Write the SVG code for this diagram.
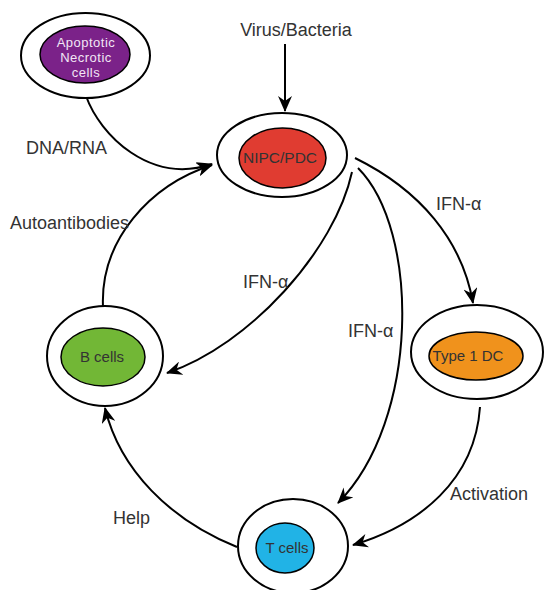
<svg xmlns="http://www.w3.org/2000/svg" width="545" height="590" viewBox="0 0 545 590">
<style>
.outer{fill:#fff;stroke:#000;stroke-width:2}
.inner{stroke:#000;stroke-width:1.5}
.lbl{font-family:"Liberation Sans",Arial,sans-serif;font-size:18px;fill:#333}
.nt{font-family:"Liberation Sans",Arial,sans-serif;font-size:15px;fill:#333;text-anchor:middle}
.at{font-family:"Liberation Sans",Arial,sans-serif;font-size:13px;letter-spacing:0.5px;fill:#f2e6f5;text-anchor:middle}
.edge{fill:none;stroke:#000;stroke-width:2;marker-end:url(#ah)}
</style>
<defs>
<marker id="ah" viewBox="0 0 16 14" refX="15" refY="7" markerWidth="16" markerHeight="14" orient="auto" markerUnits="userSpaceOnUse">
<path d="M0,0 L16,7 L0,14 L5,7 z" fill="#000"/>
</marker>
</defs>
<rect width="545" height="590" fill="#fff"/>
<g id="connectors">
<path class="edge" d="M285 44 L285 111"/>
<path class="edge" d="M86 96 C100 135 150 185 212 164"/>
<path class="edge" d="M103 307 C100 240 150 185 212 165"/>
<path class="edge" d="M355 158 C420 190 462 240 473 303"/>
<path class="edge" d="M352 172 C335 250 250 345 167 373"/>
<path class="edge" d="M358 168 C420 230 420 420 338 503"/>
<path class="edge" d="M480 407 C475 480 420 525 353 545"/>
<path class="edge" d="M237 547 C170 520 120 470 105 408"/>
</g>
<g id="labels">
<text class="lbl" x="296" y="36" text-anchor="middle">Virus/Bacteria</text>
<text class="lbl" x="26" y="154">DNA/RNA</text>
<text class="lbl" x="10" y="229">Autoantibodies</text>
<text class="lbl" x="436" y="210">IFN-α</text>
<text class="lbl" x="243" y="288">IFN-α</text>
<text class="lbl" x="348" y="337">IFN-α</text>
<text class="lbl" x="450" y="500">Activation</text>
<text class="lbl" x="113" y="524">Help</text>
</g>
<g id="apoptotic">
<ellipse class="outer" cx="85.5" cy="55.5" rx="64.5" ry="42.5"/>
<ellipse class="inner" cx="85" cy="54.5" rx="45" ry="28.5" fill="#7b2289"/>
<text class="at" x="86" y="47">Apoptotic</text>
<text class="at" x="86" y="62">Necrotic</text>
<text class="at" x="86" y="77">cells</text>
</g>
<g id="nipc">
<ellipse class="outer" cx="282" cy="155" rx="65" ry="42"/>
<ellipse class="inner" cx="282.5" cy="158" rx="43.5" ry="30" fill="#e03c31"/>
<text class="nt" x="280" y="163" style="font-size:15.5px">NIPC/PDC</text>
</g>
<g id="bcells">
<ellipse class="outer" cx="105" cy="356" rx="58" ry="50"/>
<ellipse class="inner" cx="103" cy="357" rx="42" ry="29" fill="#72b736"/>
<text class="nt" x="102" y="362">B cells</text>
</g>
<g id="type1dc">
<ellipse class="outer" cx="477" cy="352" rx="66" ry="47"/>
<ellipse class="inner" cx="476" cy="356" rx="47" ry="24" fill="#f0921c"/>
<text class="nt" x="468" y="361">Type 1 DC</text>
</g>
<g id="tcells">
<ellipse class="outer" cx="293" cy="546" rx="55" ry="47"/>
<ellipse class="inner" cx="285" cy="548" rx="29" ry="25" fill="#21b3e6"/>
<text class="nt" x="287" y="553">T cells</text>
</g>
</svg>
